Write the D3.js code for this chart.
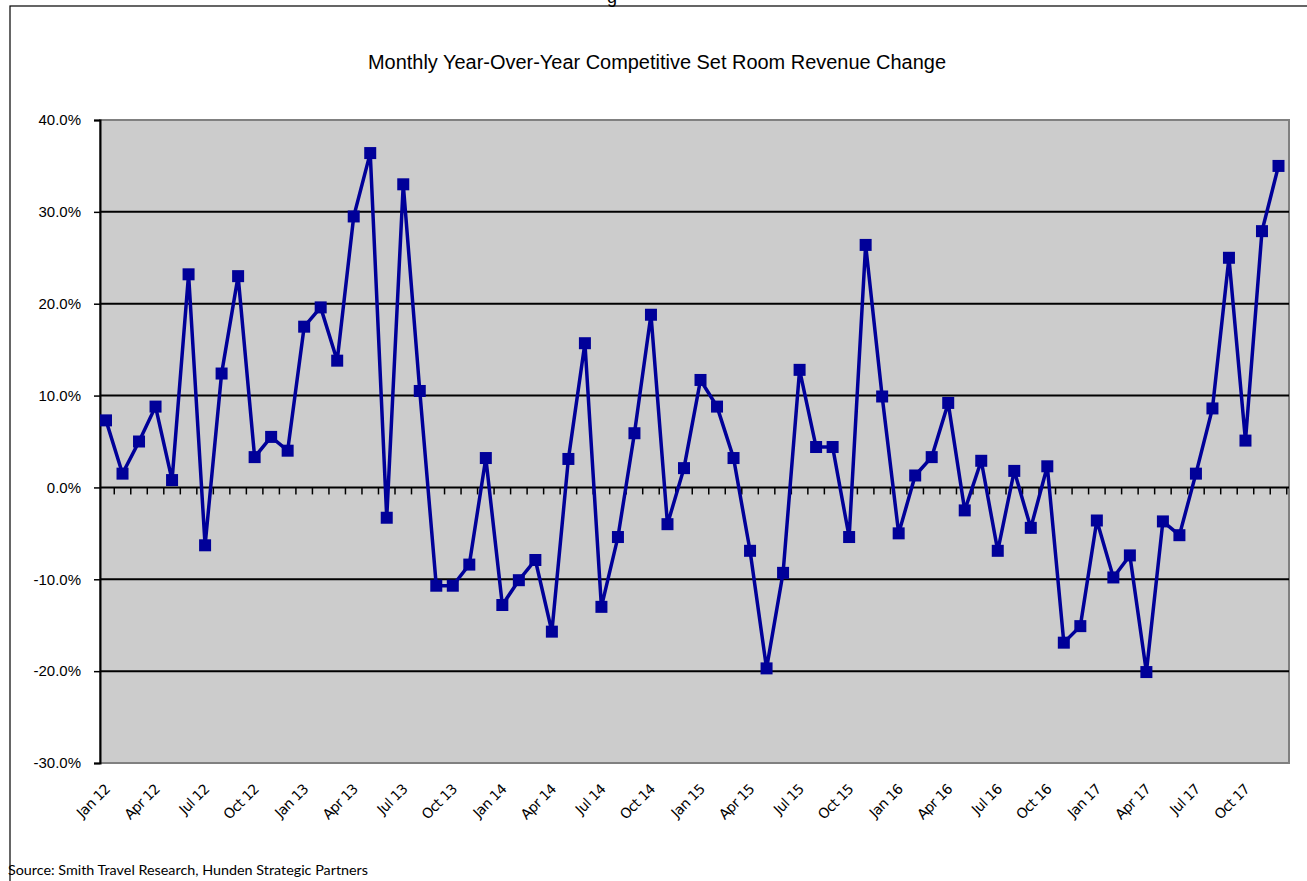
<!DOCTYPE html>
<html><head><meta charset="utf-8">
<script src="https://cdn.jsdelivr.net/npm/d3@7/dist/d3.min.js"></script>
<style>
html,body{margin:0;padding:0;background:#fff;}
svg{display:block;}
</style></head>
<body><svg id="c" width="1307" height="881"></svg>
<script>
const title = "Monthly Year-Over-Year Competitive Set Room Revenue Change";
const source = "Source:  Smith Travel Research, Hunden Strategic Partners";
const monthNames = ["Jan","Feb","Mar","Apr","May","Jun","Jul","Aug","Sep","Oct","Nov","Dec"];
const years = ["12","13","14","15","16","17"];
const categories = years.flatMap(y => monthNames.map(m => m + " " + y));
const values = [
  7.3, 1.5, 5.0, 8.8, 0.8, 23.2, -6.3, 12.4, 23.0, 3.3, 5.5, 4.0,
  17.5, 19.6, 13.8, 29.5, 36.4, -3.3, 33.0, 10.5, -10.7, -10.7, -8.4, 3.2,
  -12.8, -10.1, -7.9, -15.7, 3.1, 15.7, -13.0, -5.4, 5.9, 18.8, -4.0, 2.1,
  11.7, 8.8, 3.2, -6.9, -19.7, -9.3, 12.8, 4.4, 4.4, -5.4, 26.4, 9.9,
  -5.0, 1.3, 3.3, 9.2, -2.5, 2.9, -6.9, 1.8, -4.4, 2.3, -16.9, -15.1,
  -3.6, -9.8, -7.4, -20.1, -3.7, -5.2, 1.5, 8.6, 25.0, 5.1, 27.9, 35.0
];
const yTicks = [-30, -20, -10, 0, 10, 20, 30, 40];
const xLabelEvery = 3;

const svg = d3.select("#c");
const plot = {left: 100, right: 1289, top: 120, bottom: 763};
const narrow = "Liberation Sans, Arial, sans-serif";

// outer frame
svg.append("rect").attr("x", 10).attr("y", 6).attr("width", 1320).attr("height", 900)
  .attr("fill", "none").attr("stroke", "#000").attr("stroke-width", 1.2);
svg.append("text").attr("x", 612).attr("y", 3).attr("font-family", narrow)
  .attr("font-size", 18).attr("text-anchor", "middle").text("g");

const x = d3.scalePoint().domain(categories).range([106, 1278.5]);
const step = x.step();
const y = d3.scaleLinear().domain([-30, 40]).range([plot.bottom, plot.top]);

// title
svg.append("text").attr("x", 657).attr("y", 69).attr("text-anchor", "middle")
  .attr("font-family", narrow).attr("font-size", 20)
  .attr("textLength", 578).attr("lengthAdjust", "spacingAndGlyphs")
  .attr("fill", "#000").text(title);

// plot background
svg.append("rect").attr("x", plot.left).attr("y", plot.top)
  .attr("width", plot.right - plot.left).attr("height", plot.bottom - plot.top)
  .attr("fill", "#cccccc").attr("stroke", "#808080").attr("stroke-width", 2);

// gridlines
svg.append("g").selectAll("line").data(yTicks.filter(t => t !== -30 && t !== 40 && t !== 0)).join("line")
  .attr("x1", plot.left).attr("x2", plot.right)
  .attr("y1", d => y(d)).attr("y2", d => y(d))
  .attr("stroke", "#000").attr("stroke-width", 2);

// y axis
const yAxis = d3.axisLeft(y).tickValues(yTicks).tickSize(6).tickPadding(13)
  .tickFormat(d => d3.format(".1f")(d).replace("\u2212", "-") + "%");
const ya = svg.append("g").attr("transform", `translate(${plot.left},0)`).call(yAxis);
ya.select(".domain").attr("stroke", "#000").attr("stroke-width", 2);
ya.selectAll(".tick line").attr("stroke", "#000").attr("stroke-width", 1.5);
ya.selectAll(".tick text").attr("font-family", narrow)
  .attr("font-size", 15).attr("fill", "#000");

// zero axis with category ticks
const boundaries = categories.map(c => x(c) + step / 2);
svg.append("line").attr("x1", plot.left).attr("x2", plot.right)
  .attr("y1", y(0)).attr("y2", y(0)).attr("stroke", "#000").attr("stroke-width", 2);
svg.append("g").selectAll("line").data(boundaries).join("line")
  .attr("x1", d => d).attr("x2", d => d)
  .attr("y1", y(0)).attr("y2", y(0) + 7)
  .attr("stroke", "#000").attr("stroke-width", 1.5);

// x labels
svg.append("g").selectAll("text").data(categories.filter((c, i) => i % xLabelEvery === 0)).join("text")
  .attr("transform", d => `translate(${x(d) + 5},${plot.bottom + 27}) rotate(-45)`)
  .attr("text-anchor", "end")
  .attr("font-family", "DejaVu Sans, sans-serif")
  .attr("font-size", 14).attr("letter-spacing", -0.6).attr("fill", "#000")
  .text(d => d);

// line
const line = d3.line().x((d, i) => x(categories[i])).y(d => y(d));
svg.append("path").datum(values).attr("d", line)
  .attr("fill", "none").attr("stroke", "#000099").attr("stroke-width", 3.5)
  .attr("stroke-linejoin", "miter");

// markers
const ms = 12;
svg.append("g").selectAll("rect").data(values).join("rect")
  .attr("x", (d, i) => x(categories[i]) - ms / 2)
  .attr("y", d => y(d) - ms / 2)
  .attr("width", ms).attr("height", ms)
  .attr("fill", "#000099");

// source
svg.append("text").attr("x", 8).attr("y", 875)
  .attr("font-family", "Lato, Open Sans, sans-serif").attr("font-size", 13)
  .attr("textLength", 360).attr("lengthAdjust", "spacingAndGlyphs")
  .attr("fill", "#000").text(source);
</script></body></html>
